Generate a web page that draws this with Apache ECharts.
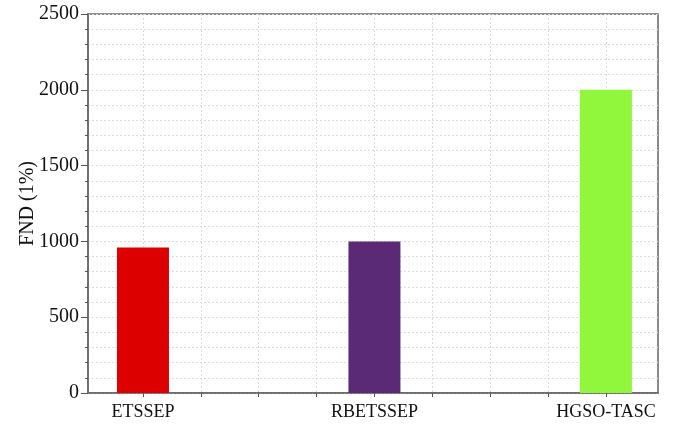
<!DOCTYPE html>
<html>
<head>
<meta charset="utf-8">
<script src="https://cdn.jsdelivr.net/npm/echarts@6/dist/echarts.min.js"></script>
<style>html,body{margin:0;padding:0;background:#fff}#c{width:675px;height:425px}</style>
</head>
<body>
<div id="c"></div>
<script>
const categories = ['ETSSEP', 'RBETSSEP', 'HGSO-TASC'];
const positions = [0, 4, 8];
const values = [960, 1000, 2000];
const colors = ['#DD0000', '#5A2A76', '#90F73C'];
const xTickPositions = [0, 1, 2, 3, 4, 5, 6, 7, 8];
const yTicks = [0, 500, 1000, 1500, 2000, 2500];

const chart = echarts.init(document.getElementById('c'), null, {renderer: 'canvas'});
const font = '"Liberation Serif", "Times New Roman", serif';
chart.setOption({
  animation: false,
  backgroundColor: '#fff',
  grid: {left: 88, right: 17, top: 14, bottom: 32, show: true, borderColor: '#666', borderWidth: 1.5,
    containLabel: false, outerBoundsMode: 'none'},
  xAxis: {
    type: 'value', min: -0.95, max: 8.9,
    axisLine: {show: true, onZero: false, lineStyle: {color: '#666', width: 1.5}},
    axisTick: {show: true, customValues: xTickPositions, length: 4, lineStyle: {color: '#555'}},
    axisLabel: {customValues: positions, margin: 10, color: '#111', fontFamily: font, fontSize: 18,
      formatter: v => categories[positions.indexOf(Math.round(v))] || ''},
    splitLine: {show: true, lineStyle: {color: '#dcdcdc', type: [2, 2], width: 1}}
  },
  yAxis: {
    type: 'value', min: yTicks[0], max: yTicks[yTicks.length - 1], interval: 500,
    name: 'FND (1%)', nameLocation: 'middle', nameGap: 50, nameMoveOverlap: false,
    nameTextStyle: {fontFamily: font, fontSize: 20, color: '#111'},
    axisLine: {show: true, onZero: false, lineStyle: {color: '#666', width: 1.5}},
    axisTick: {show: true, length: 7, lineStyle: {color: '#555'}},
    minorTick: {show: true, splitNumber: 5, length: 3, lineStyle: {color: '#555'}},
    axisLabel: {margin: 9, color: '#111', fontFamily: font, fontSize: 20, formatter: v => String(v)},
    splitLine: {show: true, lineStyle: {color: '#dcdcdc', type: [2, 2], width: 1}},
    minorSplitLine: {show: true, lineStyle: {color: '#dcdcdc', type: [2, 2], width: 1}}
  },
  series: [{
    type: 'bar',
    barWidth: 52,
    data: positions.map((p, i) => ({value: [p, values[i]], itemStyle: {color: colors[i]}}))
  }]
});
</script>
</body>
</html>
